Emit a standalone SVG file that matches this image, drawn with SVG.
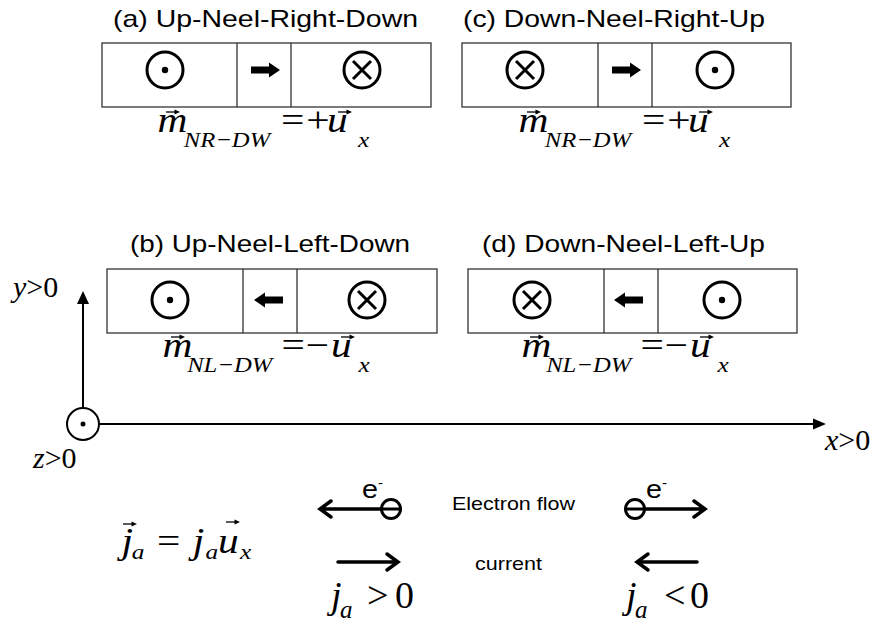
<svg xmlns="http://www.w3.org/2000/svg" width="875" height="628" viewBox="0 0 875 628">
<style>
.title{font-family:"Liberation Sans",Arial,sans-serif;font-size:24px;fill:#000}
.lbl{font-family:"Liberation Sans",Arial,sans-serif;font-size:19px;fill:#000}
.box{fill:none;stroke:#222;stroke-width:1.2}
.sym{fill:none;stroke:#000;stroke-width:3}
.mi{font-family:"Liberation Serif","Times New Roman",serif;font-style:italic;font-size:36px;fill:#000}
.mr{font-family:"Liberation Serif","Times New Roman",serif;font-size:36px;fill:#000}
.ms{font-family:"Liberation Serif","Times New Roman",serif;font-style:italic;font-size:22px;fill:#000}
.big{font-size:38px}
.bs{font-size:25px}
.ax{font-family:"Liberation Serif","Times New Roman",serif;font-size:30px;fill:#000}
.axi{font-style:italic}
.axis{fill:none;stroke:#000;stroke-width:2}
.flow{fill:none;stroke:#000;stroke-width:3.5;stroke-linecap:round;stroke-linejoin:miter}
</style>
<defs>
<g id="vec"><path d="M0 0H10" stroke="#000" stroke-width="1.3"/><path d="M8.5 -2.5L14 0L8.5 2.5Z" fill="#000"/></g>
<g id="dot"><circle cx="0" cy="0" r="18" class="sym"/><circle cx="0" cy="0" r="3.2" fill="#000"/></g>
<g id="cross"><circle cx="0" cy="0" r="18" class="sym"/><path d="M-9 -9L9 9M9 -9L-9 9" class="sym"/></g>
<path id="rarr" d="M-15 -3.5H3V-7.5L14 0L3 7.5V3.5H-15Z" fill="#000"/>
<path id="larr" d="M15 -3.5H-3V-7.5L-14 0L-3 7.5V3.5H15Z" fill="#000"/>
<g id="fR">
<g transform="scale(1.15,1)">
<text class="mi" x="-0.5" y="0">m</text>
<text class="ms" x="22.5" y="15" textLength="75" lengthAdjust="spacingAndGlyphs">NR−DW</text>
<text class="mr" x="107" y="0">=</text><text class="mr" x="129" y="0">+</text>
<text class="mi" x="147" y="0">u</text>
<text class="ms" x="174" y="15">x</text>
</g>
<use href="#vec" x="8" y="-20"/><use href="#vec" x="180" y="-20"/>
</g>
<g id="fL">
<g transform="scale(1.15,1)">
<text class="mi" x="-0.5" y="0">m</text>
<text class="ms" x="21" y="15" textLength="74" lengthAdjust="spacingAndGlyphs">NL−DW</text>
<text class="mr" x="103" y="0">=</text><text class="mr" x="124" y="0">−</text>
<text class="mi" x="146" y="0">u</text>
<text class="ms" x="170" y="15">x</text>
</g>
<use href="#vec" x="8" y="-20"/><use href="#vec" x="178" y="-20"/>
</g>
</defs>

<g id="node-a">
<text class="title" x="113" y="27" textLength="305" lengthAdjust="spacingAndGlyphs">(a) Up-Neel-Right-Down</text>
<rect class="box" x="102" y="43" width="329" height="64"/>
<path class="box" d="M237 43V107M291 43V107"/>
<use href="#dot" x="165" y="70"/>
<use href="#rarr" x="266" y="70"/>
<use href="#cross" x="362" y="70"/>
<use href="#fR" x="158" y="132"/>
</g>

<g id="node-c">
<text class="title" x="463" y="27" textLength="302" lengthAdjust="spacingAndGlyphs">(c) Down-Neel-Right-Up</text>
<rect class="box" x="462" y="43" width="329" height="64"/>
<path class="box" d="M598 43V107M652 43V107"/>
<use href="#cross" x="525" y="70"/>
<use href="#rarr" x="627" y="70"/>
<use href="#dot" x="715" y="70"/>
<use href="#fR" x="519" y="132"/>
</g>

<g id="node-b">
<text class="title" x="130" y="252" textLength="280" lengthAdjust="spacingAndGlyphs">(b) Up-Neel-Left-Down</text>
<rect class="box" x="107" y="269" width="330" height="64"/>
<path class="box" d="M243 269V333M297 269V333"/>
<use href="#dot" x="170" y="300"/>
<use href="#larr" x="268" y="300"/>
<use href="#cross" x="367" y="300"/>
<use href="#fL" x="163" y="357"/>
</g>

<g id="node-d">
<text class="title" x="482" y="252" textLength="283" lengthAdjust="spacingAndGlyphs">(d) Down-Neel-Left-Up</text>
<rect class="box" x="468" y="269" width="329" height="64"/>
<path class="box" d="M604 269V333M658 269V333"/>
<use href="#cross" x="532" y="300"/>
<use href="#larr" x="628" y="300"/>
<use href="#dot" x="722" y="300"/>
<use href="#fL" x="522" y="357"/>
</g>

<g id="axes">
<path class="axis" d="M83 408V302"/>
<path d="M77 304L83 291L89 304Z" fill="#000"/>
<circle cx="83" cy="424" r="16" class="axis"/>
<circle cx="83" cy="424" r="2.5" fill="#000"/>
<path class="axis" d="M99 424H814"/>
<path d="M813 418.5L826 424L813 429.5Z" fill="#000"/>
<text class="ax" x="13" y="297"><tspan class="axi">y</tspan>&gt;0</text>
<text class="ax" x="33" y="468"><tspan class="axi">z</tspan>&gt;0</text>
<text class="ax" x="825" y="450"><tspan class="axi">x</tspan>&gt;0</text>
</g>

<g id="connectors">
<path class="flow" d="M380 509H320M331 501L320 509L331 517"/>
<circle cx="391" cy="509" r="9.5" fill="none" stroke="#000" stroke-width="3"/>
<path d="M381 509H401" stroke="#000" stroke-width="3"/>
<path class="flow" d="M645 509H705M694 501L705 509L694 517"/>
<circle cx="635" cy="509" r="9.5" fill="none" stroke="#000" stroke-width="3"/>
<path d="M625 509H645" stroke="#000" stroke-width="3"/>
<path class="flow" d="M338 562H398M387 554L398 562L387 570"/>
<path class="flow" d="M697 562H637M648 554L637 562L648 570"/>
</g>

<g id="legend">
<text class="lbl" x="362" y="498" style="font-size:25px" textLength="16" lengthAdjust="spacingAndGlyphs">e</text>
<text class="lbl" x="378" y="488" style="font-size:15px">-</text>
<text class="lbl" x="646" y="498" style="font-size:25px" textLength="16" lengthAdjust="spacingAndGlyphs">e</text>
<text class="lbl" x="662" y="488" style="font-size:15px">-</text>
<text class="lbl" x="452" y="510" textLength="123" lengthAdjust="spacingAndGlyphs">Electron flow</text>
<text class="lbl" x="475" y="570" textLength="67" lengthAdjust="spacingAndGlyphs">current</text>
<g id="eq-j">
<g transform="translate(118,553) scale(1.15,1)">
<text class="mi" x="3" y="0">j</text>
<text class="ms" x="12" y="6">a</text>
<text class="mr" x="34" y="0">=</text>
<text class="mi" x="65" y="0">j</text>
<text class="ms" x="76" y="6">a</text>
<text class="mi" x="87" y="0">u</text>
<text class="ms" x="106" y="6">x</text>
</g>
<use href="#vec" x="123" y="524"/><use href="#vec" x="226" y="522"/>
</g>
<g id="eq-jpos">
<text class="mi big" x="331" y="608">j</text>
<text class="ms bs" x="340" y="618">a</text>
<text class="mr big" x="367" y="608">&gt;</text>
<text class="mr big" x="395" y="608">0</text>
</g>
<g id="eq-jneg">
<text class="mi big" x="626" y="608">j</text>
<text class="ms bs" x="635" y="618">a</text>
<text class="mr big" x="664" y="608">&lt;</text>
<text class="mr big" x="690" y="608">0</text>
</g>
</g>
</svg>
